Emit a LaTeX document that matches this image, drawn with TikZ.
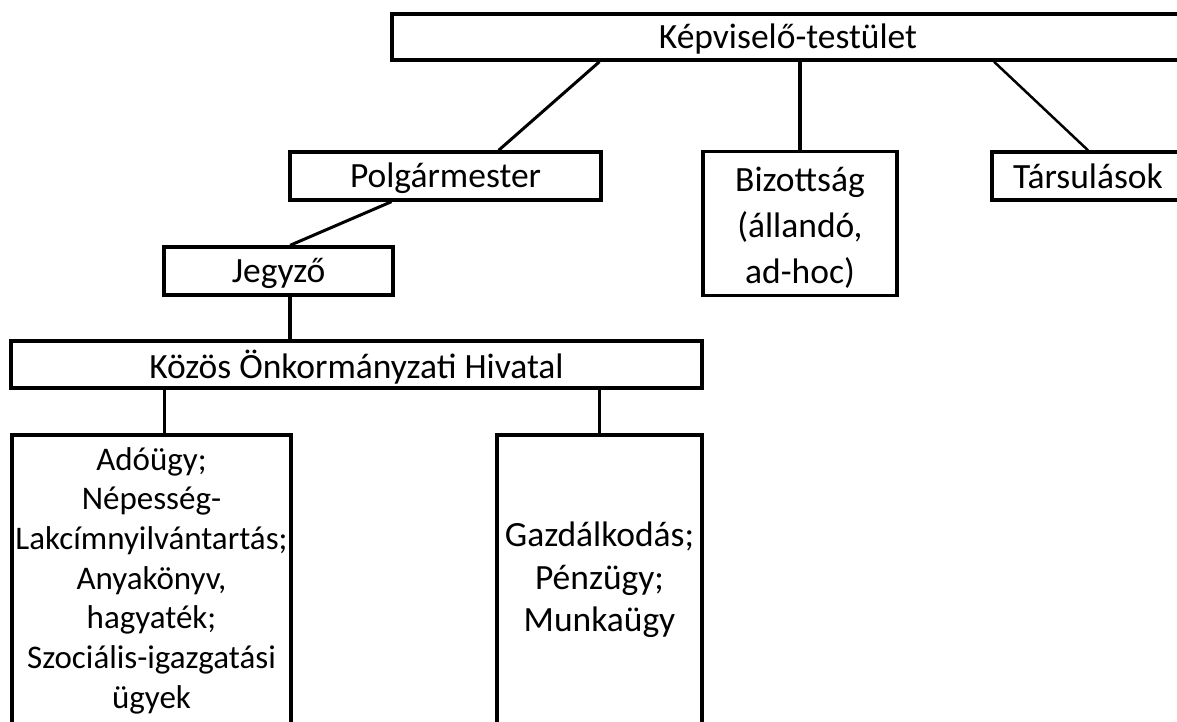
\documentclass[tikz,border=0pt]{standalone}
\usepackage{fontspec}
\setmainfont{Carlito}
\usetikzlibrary{calc}
\newcommand\topstr[1]{\rule{0pt}{#1}}
\newcommand\botstr[1]{\rule[-#1]{0pt}{#1}}
\tikzset{
  box/.style={draw=black, line width=3.4pt, inner sep=0pt, align=center,
    font=\fontsize{35.5}{42}\selectfont},
  conn/.style={draw=black, line width=3.4pt},
  diag/.style={draw=black, line width=3pt},
}
\begin{document}
\begin{tikzpicture}[x=1pt,y=-1pt]
\path[use as bounding box] (0,0) rectangle (1177,722);
\clip (0,0) rectangle (1177,722);
\node[box, minimum width=792pt, minimum height=46pt] (kt) at (788,37) {\topstr{33pt}Képviselő-testület\botstr{10.4pt}};
\node[box, minimum width=311pt, minimum height=48pt] (polg) at (445.5,176) {\topstr{34pt}Polgármester\botstr{10pt}};
\node[box, minimum width=194pt, minimum height=143pt, font=\fontsize{35.5}{46}\selectfont] (biz) at (800,223.5) {\topstr{40pt}Bizottság\\(állandó,\\ad-hoc)\botstr{11.6pt}};
\node[box, minimum width=192pt, minimum height=48pt] (tars) at (1088,176) {\topstr{34.5pt}Társulások\botstr{10pt}};
\node[box, minimum width=229pt, minimum height=48pt] (jeg) at (278.5,271) {\topstr{32pt}Jegyző\botstr{10pt}};
\node[box, minimum width=691pt, minimum height=47pt] (hiv) at (356.5,364.5) {\topstr{37pt}Közös Önkormányzati Hivatal\botstr{9.5pt}};
\node[box, minimum width=279pt, minimum height=292pt, font=\fontsize{33}{39.7}\selectfont] (ado) at (151.5,581) {\topstr{30pt}Adóügy;\\Népesség-\\Lakcímnyilvántartás;\\Anyakönyv,\\hagyaték;\\Szociális-igazgatási\\ügyek\botstr{13.8pt}};
\node[box, minimum width=205pt, minimum height=296pt, font=\fontsize{35.5}{42.5}\selectfont] (gaz) at (599.5,583) {\topstr{30pt}Gazdálkodás;\\Pénzügy;\\Munkaügy\botstr{17.6pt}};
% connectors
\draw[diag] ($(kt.south west)!0.263!(kt.south east)$) -- ($(polg.north west)!0.669!(polg.north east)$);
\draw[conn] (biz.north |- kt.south) -- (biz.north);
\draw[diag, line width=2.5pt] ($(kt.south west)!0.759!(kt.south east)$) -- (tars.north);
\draw[diag] ($(polg.south west)!0.328!(polg.south east)$) -- ($(jeg.north west)!0.55!(jeg.north east)$);
\draw[conn] ($(jeg.south west)!0.55!(jeg.south east)$) coordinate (j1) -- (j1 |- hiv.north);
\draw[conn] ($(ado.north west)!0.545!(ado.north east)$) coordinate (a1) -- (a1 |- hiv.south);
\draw[conn] (gaz.north) -- (gaz.north |- hiv.south);
\end{tikzpicture}
\end{document}
